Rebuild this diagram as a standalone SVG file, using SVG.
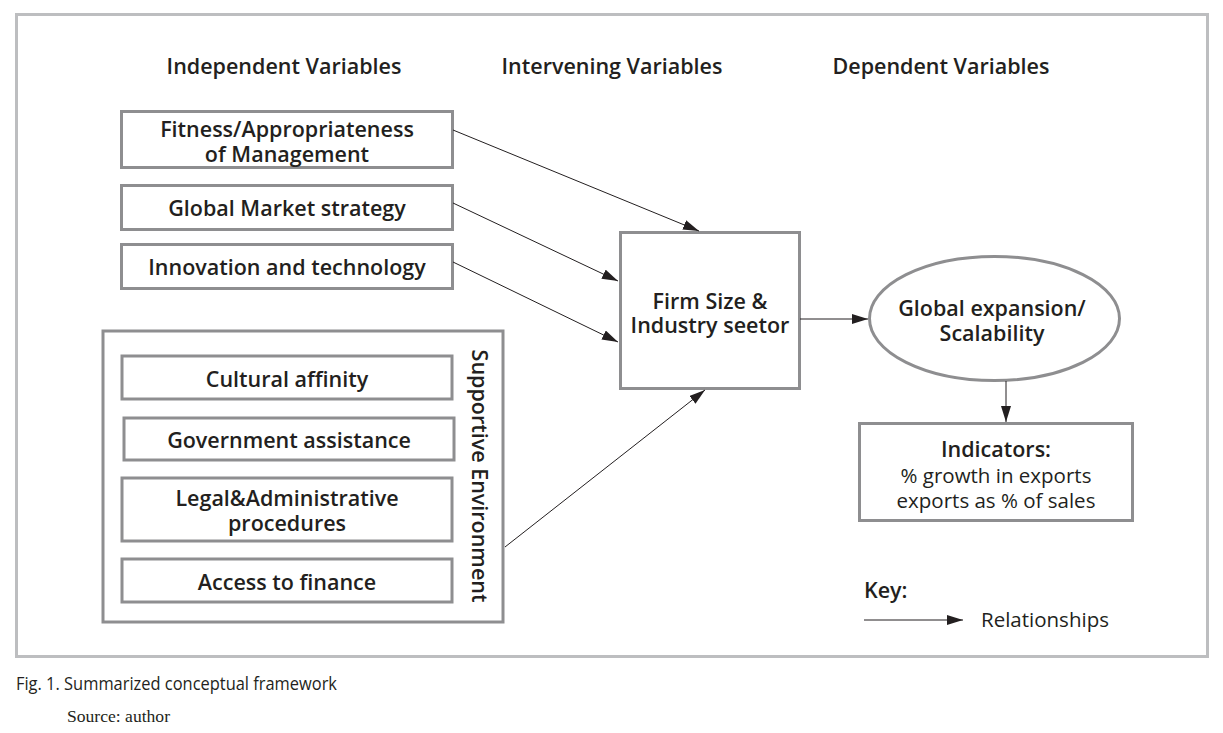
<svg xmlns="http://www.w3.org/2000/svg" width="1223" height="733" viewBox="0 0 1223 733">
<style>
.frame{fill:none;stroke:#bdbec0;stroke-width:3}
.box{fill:#fff;stroke:#8e8e90;stroke-width:3}
.t{font-family:"Open Sans","Liberation Sans",sans-serif;font-weight:600;font-size:21.5px;fill:#231f20;text-anchor:middle}
.r{font-family:"Open Sans","Liberation Sans",sans-serif;font-weight:400;font-size:20.5px;fill:#231f20;text-anchor:middle}
.c{stroke:#231f20;stroke-width:1;fill:none;marker-end:url(#ah)}
</style>
<defs>
<marker id="ah" viewBox="0 0 16 10" refX="16" refY="5" markerWidth="16" markerHeight="10" markerUnits="userSpaceOnUse" orient="auto">
<path d="M0,0 L16,5 L0,10 z" fill="#231f20"/>
</marker>
</defs>
<rect width="1223" height="733" fill="#fff"/>
<rect class="frame" x="16.5" y="14.5" width="1191" height="642"/>

<g id="headers">
<text class="t" x="284" y="74">Independent Variables</text>
<text class="t" x="612" y="74">Intervening Variables</text>
<text class="t" x="941" y="74">Dependent Variables</text>
</g>

<g id="n-fitness">
<rect class="box" x="121.5" y="111.5" width="331" height="56"/>
<text class="t" x="287" y="137">Fitness/Appropriateness<tspan x="287" dy="25">of Management</tspan></text>
</g>
<g id="n-global-market">
<rect class="box" x="121.5" y="185.5" width="331" height="44"/>
<text class="t" x="287" y="216">Global Market strategy</text>
</g>
<g id="n-innovation">
<rect class="box" x="121.5" y="244.5" width="331" height="44"/>
<text class="t" x="287" y="275">Innovation and technology</text>
</g>

<g id="n-supportive">
<rect class="box" x="103" y="331" width="400" height="291"/>
<text class="t" transform="translate(472,476) rotate(90)">Supportive Environment</text>
</g>
<g id="n-cultural">
<rect class="box" x="122" y="356" width="330" height="43"/>
<text class="t" x="287" y="387">Cultural affinity</text>
</g>
<g id="n-government">
<rect class="box" x="124" y="418" width="330" height="42"/>
<text class="t" x="289" y="448">Government assistance</text>
</g>
<g id="n-legal">
<rect class="box" x="122" y="478" width="330" height="63"/>
<text class="t" x="287" y="506">Legal&amp;Administrative<tspan x="287" dy="25">procedures</tspan></text>
</g>
<g id="n-finance">
<rect class="box" x="122" y="559" width="330" height="43"/>
<text class="t" x="287" y="590">Access to finance</text>
</g>

<g id="n-firm">
<rect class="box" x="620.5" y="232.5" width="179" height="156"/>
<text class="t" x="710" y="309">Firm Size &amp;<tspan x="710" dy="24">Industry seetor</tspan></text>
</g>
<g id="n-global-expansion">
<ellipse cx="994.5" cy="318.5" rx="125" ry="62" fill="#fff" stroke="#8e8e90" stroke-width="3"/>
<text class="t" x="992" y="316">Global expansion/<tspan x="992" dy="25">Scalability</tspan></text>
</g>
<g id="n-indicators">
<rect class="box" x="859.5" y="423.5" width="273" height="97"/>
<text class="t" x="996" y="457">Indicators:</text>
<text class="r" x="996" y="483">% growth in exports<tspan x="996" dy="25">exports as % of sales</tspan></text>
</g>

<g id="connectors">
<line class="c" x1="453" y1="130" x2="699" y2="231"/>
<line class="c" x1="453" y1="203" x2="618" y2="281"/>
<line class="c" x1="453" y1="262" x2="618" y2="342"/>
<line class="c" x1="505" y1="547" x2="705" y2="390"/>
<line class="c" x1="800" y1="319" x2="868" y2="319"/>
<line class="c" x1="1006" y1="381" x2="1006" y2="422"/>
</g>

<g id="key">
<text class="t" x="864" y="598" style="text-anchor:start">Key:</text>
<line class="c" x1="864" y1="620" x2="963" y2="620"/>
<text class="r" x="981" y="627" style="text-anchor:start">Relationships</text>
</g>

<g id="caption">
<text x="16" y="690" font-family="'Open Sans',sans-serif" font-size="17.5" fill="#231f20" textLength="321" lengthAdjust="spacingAndGlyphs">Fig. 1. Summarized conceptual framework</text>
<text x="67" y="722" font-family="'Liberation Serif',serif" font-size="16" fill="#231f20" textLength="103" lengthAdjust="spacingAndGlyphs">Source: author</text>
</g>
</svg>
